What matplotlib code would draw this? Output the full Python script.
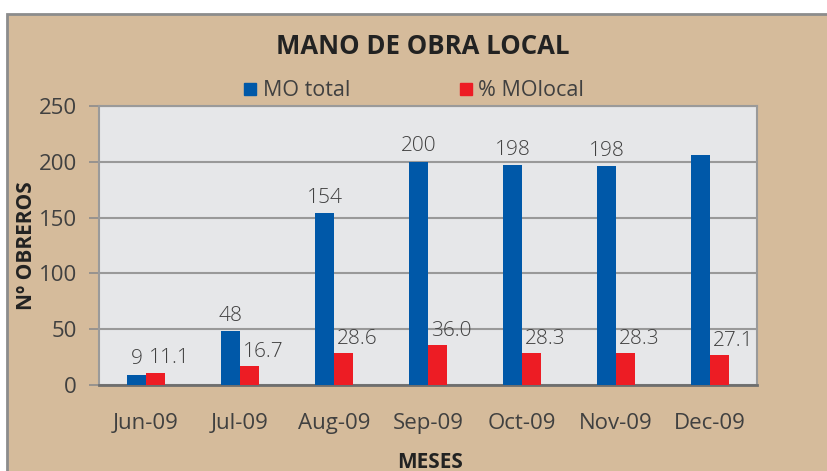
import matplotlib.pyplot as plt
from matplotlib.patches import Rectangle
from matplotlib.lines import Line2D
import numpy as np

# datos
meses = ["Jun-09", "Jul-09", "Aug-09", "Sep-09", "Oct-09", "Nov-09", "Dec-09"]
mo_total = [9, 48, 154, 200, 197, 196, 206]
mo_total_lbl = ["9", "48", "154", "200", "198", "198", ""]
mo_local = [11.1, 16.7, 28.6, 36.0, 28.3, 28.3, 27.1]

azul = "#0058a8"
rojo = "#ed1c24"
fondo = "#d5bb9b"
gris_txt = "#404040"

plt.rcParams['font.family'] = ['Open Sans', 'DejaVu Sans']

fig = plt.figure(figsize=(8.27, 4.71), dpi=100)
fig.patch.set_facecolor("white")

# marco exterior
W, H = 827, 471
fig.patches.append(Rectangle((7 / W, -0.05), 1.0, 1 - 14 / H + 0.05,
                             transform=fig.transFigure, facecolor=fondo,
                             edgecolor="#8c8c8c", linewidth=2, zorder=-10))

ax = fig.add_axes([99 / W, 86 / H, 658 / W, 279 / H])
ax.set_zorder(5)
ax.set_facecolor("#e6e7e9")

x = np.arange(len(meses))
w = 0.2
ax.bar(x - w / 2, mo_total, w, color=azul, zorder=3)
ax.bar(x + w / 2, mo_local, w, color=rojo, zorder=3)

for i in range(len(meses)):
    if mo_total_lbl[i]:
        ax.annotate(mo_total_lbl[i], (x[i] - w / 2, mo_total[i]), xytext=(0, 4),
                    textcoords="offset points", ha="center", va="bottom",
                    fontsize=15, color=gris_txt, fontweight="light")
    ax.annotate(f"{mo_local[i]:.1f}", (x[i], mo_local[i]), xytext=(2, 3),
                textcoords="offset points", ha="left", va="bottom",
                fontsize=15, color=gris_txt, fontweight="light")

ax.set_xlim(-0.5, len(meses) - 0.5)
ax.set_ylim(0, 250)
ax.set_yticks(range(0, 251, 50))
ax.yaxis.grid(True, color="#999999", linewidth=1.5, zorder=0)
ax.set_axisbelow(True)
ax.set_xticks(x)
ax.set_xticklabels(meses)
ax.tick_params(axis="x", length=0, pad=20, labelsize=16, labelcolor=gris_txt)
ax.tick_params(axis="y", length=7, width=1.2, color="#8c8c8c", pad=9,
               labelsize=16, labelcolor=gris_txt)
for s in ["top", "left", "right"]:
    ax.spines[s].set_color("#9a9a9a")
    ax.spines[s].set_linewidth(1.5)
ax.spines["bottom"].set_color("#6e6e6e")
ax.spines["bottom"].set_linewidth(2)

fig.text(27 / W, 1 - 246 / H, "Nº OBREROS", rotation=90, ha="center", va="center",
         fontsize=15, fontweight="bold", color="#222222")
fig.text(430 / W, 1 - 462 / H, "MESES", ha="center", va="center",
         fontsize=15, fontweight="bold", color="#222222")

fig.text(423 / W, 1 - 46 / H, "MANO DE OBRA LOCAL", ha="center", va="center",
         fontsize=18.5, fontweight="bold", color="#222222")

handles = [Line2D([], [], marker="s", linestyle="none", markersize=9, color=azul),
           Line2D([], [], marker="s", linestyle="none", markersize=9, color=rojo)]
fig.legend(handles, ["MO total", "% MOlocal"], ncol=2, frameon=False,
           loc="center", bbox_to_anchor=(414 / W, 1 - 91 / H), fontsize=15.5,
           handlelength=0.6, handletextpad=0.3, columnspacing=5.05,
           labelcolor=gris_txt)

fig.savefig("out.png", dpi=100, facecolor=fig.get_facecolor())
